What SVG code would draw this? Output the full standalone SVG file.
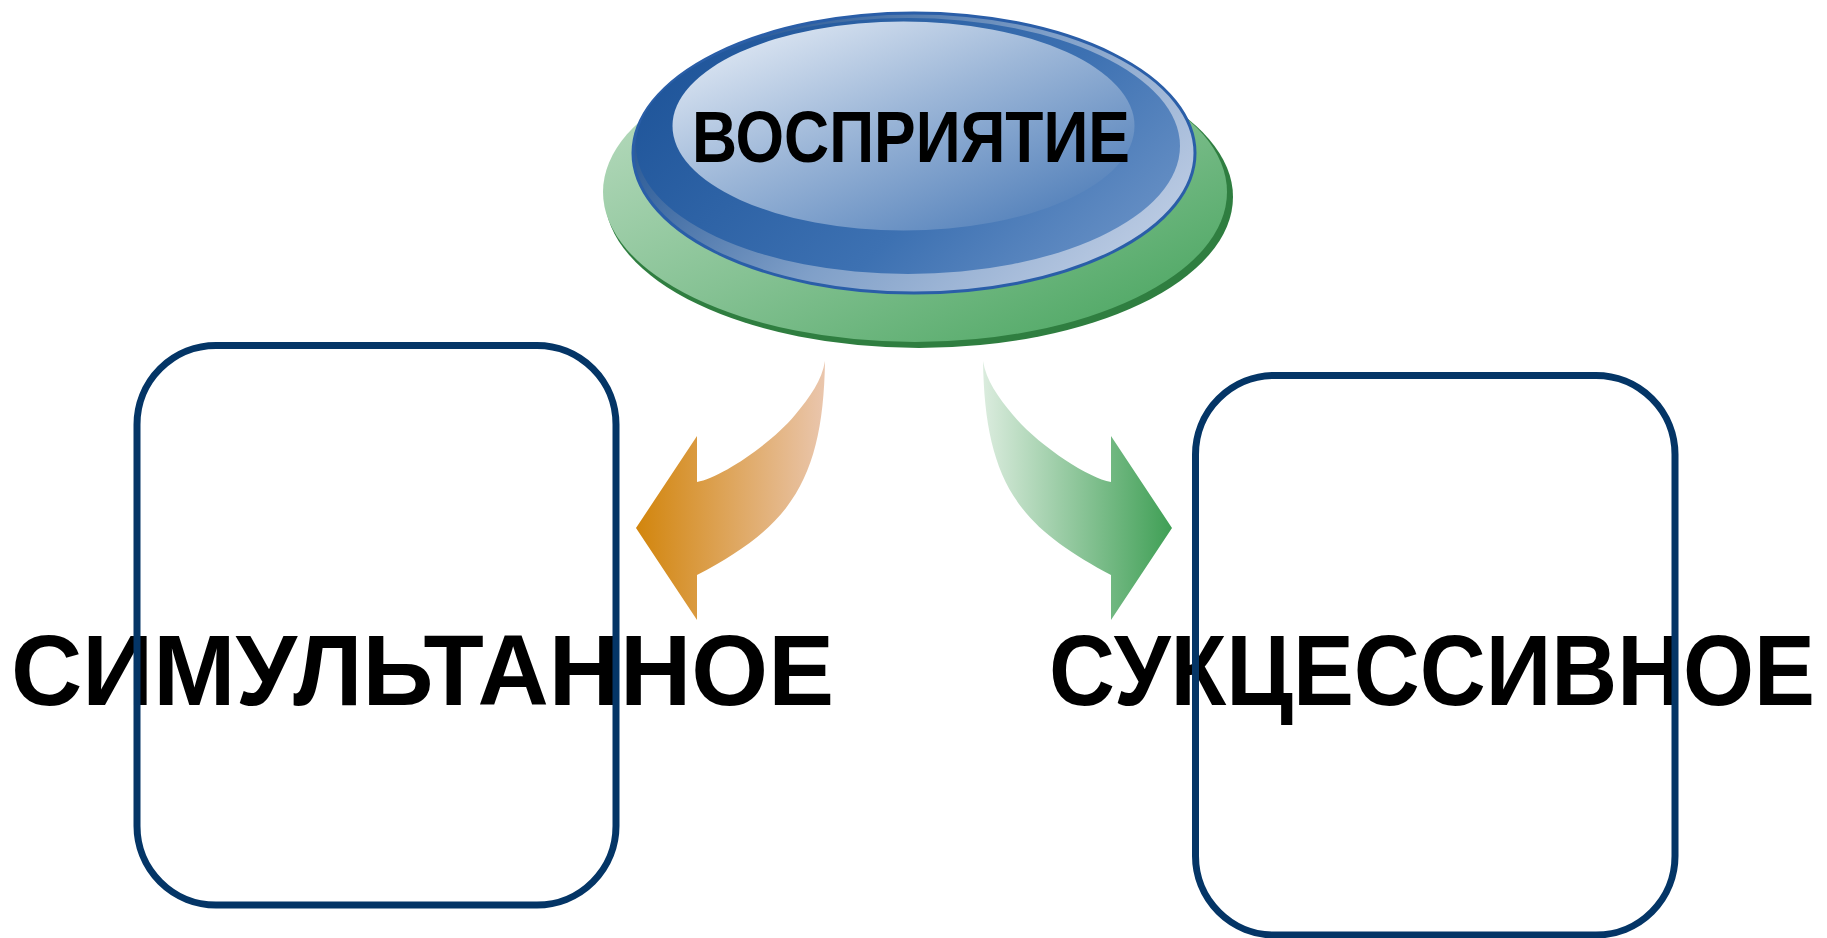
<svg xmlns="http://www.w3.org/2000/svg" width="1827" height="938" viewBox="0 0 1827 938">
<style>
.lbl{font-family:"Liberation Sans","Noto Sans",Arial,sans-serif;font-weight:bold;fill:#000;}
.box{fill:none;stroke:#043566;stroke-width:7;}
</style>
<defs>
<linearGradient id="gGreen" x1="0" y1="0" x2="1" y2="1">
<stop offset="0" stop-color="#c3e0c8"/>
<stop offset="0.5" stop-color="#86c294"/>
<stop offset="1" stop-color="#43a25a"/>
</linearGradient>
<linearGradient id="gRimOuter" x1="0" y1="0.3" x2="1" y2="0.8">
<stop offset="0" stop-color="#1d4f8e"/>
<stop offset="0.5" stop-color="#7f9fc8"/>
<stop offset="1" stop-color="#c2d0e6"/>
</linearGradient>
<linearGradient id="gRim" x1="0" y1="0.3" x2="1" y2="0.8">
<stop offset="0" stop-color="#1f559a"/>
<stop offset="0.6" stop-color="#3d71b2"/>
<stop offset="1" stop-color="#6a92c6"/>
</linearGradient>
<linearGradient id="gFace" x1="0.05" y1="0" x2="0.95" y2="1">
<stop offset="0" stop-color="#eaf0f8"/>
<stop offset="0.45" stop-color="#9db7d8"/>
<stop offset="1" stop-color="#4677b5"/>
</linearGradient>
<linearGradient id="gOrange" x1="0" y1="0" x2="1" y2="0">
<stop offset="0" stop-color="#d2850c"/>
<stop offset="1" stop-color="#eac6ad"/>
</linearGradient>
<linearGradient id="gGreenArrow" x1="0" y1="0" x2="1" y2="0">
<stop offset="0" stop-color="#dbecde"/>
<stop offset="1" stop-color="#3f9f55"/>
</linearGradient>
</defs>

<g id="connectors">
<path id="arrow-left" fill="url(#gOrange)" d="M825,361 C824,425 814,472 786,508 C766,534 735,555 697,575 L697,620 L636,528 L697,436 L697,482 C720,478 770,445 795,415 C810,397 822,380 825,361 Z"/>
<path id="arrow-right" fill="url(#gGreenArrow)" d="M983,361 C984,425 994,472 1022,508 C1042,534 1073,555 1111,575 L1111,620 L1172,528 L1111,436 L1111,482 C1088,478 1038,445 1013,415 C998,397 986,380 983,361 Z"/>
</g>

<g id="node-perception">
<ellipse cx="919" cy="197" rx="314" ry="151" fill="#2f7e40"/>
<ellipse cx="915" cy="192" rx="312" ry="150" fill="url(#gGreen)"/>
<ellipse cx="914" cy="153" rx="281" ry="140" fill="url(#gRimOuter)" stroke="#2a5ea8" stroke-width="3"/>
<ellipse cx="908" cy="146" rx="272" ry="128" fill="url(#gRim)"/>
<ellipse cx="903.5" cy="126" rx="231" ry="104.5" fill="url(#gFace)"/>
<text class="lbl" x="911" y="162" font-size="72" text-anchor="middle" textLength="438" lengthAdjust="spacingAndGlyphs">ВОСПРИЯТИЕ</text>
</g>

<g id="node-simultaneous">
<text class="lbl" x="11" y="705" font-size="100" textLength="823" lengthAdjust="spacingAndGlyphs">СИМУЛЬТАННОЕ</text>
<rect class="box" x="137" y="345.5" width="479" height="559.5" rx="79" ry="79"/>
</g>

<g id="node-successive">
<text class="lbl" x="1049" y="705" font-size="100" textLength="766" lengthAdjust="spacingAndGlyphs">СУКЦЕССИВНОЕ</text>
<rect class="box" x="1195.5" y="375.5" width="479.5" height="559.5" rx="79" ry="79"/>
</g>
</svg>
